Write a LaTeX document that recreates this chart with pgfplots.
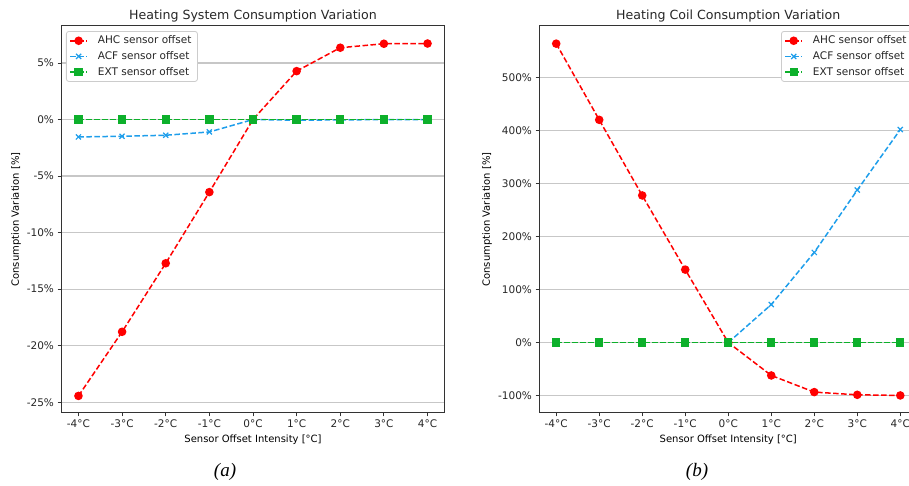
\documentclass[border=0pt]{standalone}
\usepackage{pgfplots}
\usepackage{pgfplotstable}
\pgfplotsset{compat=1.18}
\usepackage{fontspec}
\setmainfont{DejaVu Sans}
\newfontfamily\capfont{Liberation Serif}
\definecolor{cred}{HTML}{FF0000}
\definecolor{cblue}{HTML}{1E9EEB}
\definecolor{cgreen}{HTML}{0DB02B}
\definecolor{txt}{HTML}{262626}
\definecolor{spine}{HTML}{333333}

\pgfplotstableread{
x ahc acf ext
-4 -24.44 -1.54 0
-3 -18.77 -1.48 0
-2 -12.71 -1.39 0
-1 -6.42 -1.10 0
0 0 0 0
1 4.28 -0.06 0
2 6.35 -0.03 0
3 6.70 -0.01 0
4 6.72 0 0
}\datasys

\pgfplotstableread{
x ahc ext
-4 563.7 0
-3 420.0 0
-2 277.4 0
-1 137.5 0
0 0 0
1 -62.1 0
2 -93.5 0
3 -98.6 0
4 -99.8 0
}\datacoil

\pgfplotstableread{
x acf
0 0
1 71.6
2 170.0
3 287.6
4 401.7
}\datacoilacf

\pgfplotsset{
 mystyle/.style={
  scale only axis, height=387pt,
  xmin=-4.4, xmax=4.4,
  xtick={-4,-3,-2,-1,0,1,2,3,4},
  xticklabels={-4°C,-3°C,-2°C,-1°C,0°C,1°C,2°C,3°C,4°C},
  tick pos=left, tick align=outside, major tick length=3.5pt,
  every tick/.style={line width=0.9pt, color=spine},
  axis line style={line width=1pt, color=spine},
  ymajorgrids, grid style={line width=1.3pt, color=black!22},
  tick label style={font=\fontsize{10.5}{12}\selectfont, text=txt},
  label style={font=\fontsize{10.5}{12}\selectfont, text=txt},
  every axis title/.style={at={(axis description cs:0.5,1)}, anchor=base, yshift=6pt, font=\fontsize{12.6}{15}\selectfont, text=txt},
  every axis x label/.style={at={(axis description cs:0.5,-0.068)}, anchor=center},
  xlabel={Sensor Offset Intensity [°C]},
  ylabel={Consumption Variation [\%]},
  legend cell align=left,
  legend image code/.code={\draw[mark repeat=2, mark phase=2] plot coordinates {(0pt,0pt) (8.5pt,0pt) (17pt,0pt)};},
  legend style={font=\fontsize{10.5}{12}\selectfont, text=txt, draw=black!20, line width=0.8pt, rounded corners=2.5pt, fill=white, inner xsep=3pt, inner ysep=1.5pt, nodes={inner xsep=3pt, inner ysep=3.1pt},
    /tikz/every odd column/.append style={column sep=7pt}},
 },
 ahcst/.style={color=cred, line width=1.5pt, dash pattern=on 5.5pt off 2.5pt, mark=*, mark size=3.5pt, mark options={solid}},
 acfst/.style={color=cblue, line width=1.5pt, dash pattern=on 5.5pt off 2.5pt, mark=x, mark size=3.6pt, mark options={solid, line width=1.2pt}},
 extst/.style={color=cgreen, line width=1.5pt, dash pattern=on 5.5pt off 2.5pt, mark=square*, mark size=3.4pt, mark options={solid}},
}

\begin{document}
\begin{tikzpicture}
\useasboundingbox (0pt,0pt) rectangle (909pt,486pt);
\begin{axis}[mystyle, width=384pt, at={(61pt,73pt)}, anchor=south west,
  ymin=-25.95, ymax=8.27,
  ytick={-25,-20,-15,-10,-5,0,5},
  yticklabels={-25\%,-20\%,-15\%,-10\%,-5\%,0\%,5\%},
  every axis y label/.style={at={(axis description cs:-0.117,0.5)}, rotate=90, anchor=center},
  title={Heating System Consumption Variation},
  legend style={at={(0.013,0.987)}, anchor=north west},
]
\addplot[ahcst] table[x=x,y=ahc]{\datasys};
\addlegendentry{AHC sensor offset}
\addplot[acfst] table[x=x,y=acf]{\datasys};
\addlegendentry{ACF sensor offset}
\addplot[extst] table[x=x,y=ext]{\datasys};
\addlegendentry{EXT sensor offset}
\end{axis}

\begin{axis}[mystyle, width=378.5pt, at={(539pt,73pt)}, anchor=south west,
  ymin=-132.9, ymax=597,
  ytick={-100,0,100,200,300,400,500},
  yticklabels={-100\%,0\%,100\%,200\%,300\%,400\%,500\%},
  every axis y label/.style={at={(axis description cs:-0.137,0.5)}, rotate=90, anchor=center},
  title={Heating Coil Consumption Variation},
  legend style={at={(0.988,0.987)}, anchor=north east},
]
\addplot[ahcst] table[x=x,y=ahc]{\datacoil};
\addlegendentry{AHC sensor offset}
\addplot[acfst] table[x=x,y=acf]{\datacoilacf};
\addlegendentry{ACF sensor offset}
\addplot[extst] table[x=x,y=ext]{\datacoil};
\addlegendentry{EXT sensor offset}
\end{axis}

\node[font=\capfont\itshape\fontsize{19}{22}\selectfont] at (225pt,14pt) {(a)};
\node[font=\capfont\itshape\fontsize{19}{22}\selectfont] at (697pt,14pt) {(b)};
\end{tikzpicture}
\end{document}
